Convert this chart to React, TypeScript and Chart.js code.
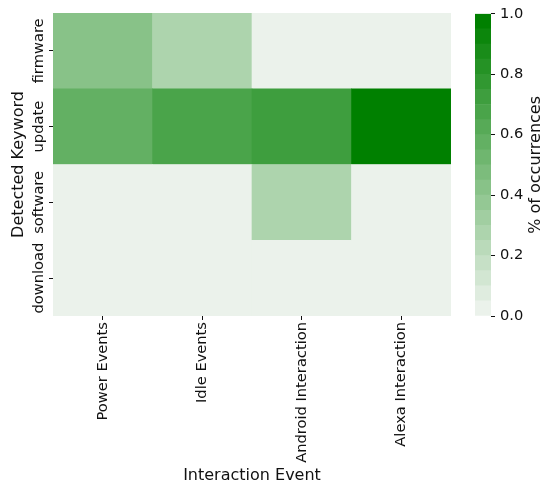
import React, { useEffect, useRef } from 'react';
import { Chart, registerables } from 'chart.js';

Chart.register(...registerables);

const columns = ['Power Events', 'Idle Events', 'Android Interaction', 'Alexa Interaction'];
const rows = ['firmware', 'update', 'software', 'download'];
const firmware = [0.42, 0.27, 0, 0];
const update = [0.57, 0.67, 0.72, 1.0];
const software = [0, 0, 0.27, 0];
const download = [0, 0, 0, 0];
const rowValues = [firmware, update, software, download];
const colorbarTicks = [0, 0.2, 0.4, 0.6, 0.8, 1.0];

const N_LEVELS = 20;
const LIGHT = [235, 242, 235];
const DARK = [0, 128, 0];
const TEXT = '#111111';
const FONT = 'DejaVu Sans';
const FS = 14.67;
const TS = 16;

function levelColor(i: number): string {
  const t = i / (N_LEVELS - 1);
  const c = LIGHT.map((l, k) => Math.round(l + (DARK[k] - l) * t));
  return `rgb(${c[0]},${c[1]},${c[2]})`;
}
function valueColor(v: number): string {
  const i = Math.min(N_LEVELS - 1, Math.floor(v * N_LEVELS));
  return levelColor(i);
}

export default function App() {
  const mainRef = useRef<HTMLCanvasElement>(null);
  const barRef = useRef<HTMLCanvasElement>(null);

  useEffect(() => {
    const rowLabelPlugin = {
      id: 'rowLabels',
      afterDraw(chart: any) {
        const ctx = chart.ctx;
        const ys = chart.scales.y;
        ctx.save();
        ctx.fillStyle = TEXT;
        ctx.font = `${FS}px "${FONT}"`;
        ctx.textAlign = 'center';
        ctx.textBaseline = 'alphabetic';
        rows.forEach((name, i) => {
          const y = ys.getPixelForValue(rows.length - 0.5 - i);
          ctx.save();
          ctx.translate(43, y);
          ctx.rotate(-Math.PI / 2);
          ctx.fillText(name, 0, 0);
          ctx.restore();
        });
        ctx.restore();
      },
    };

    const datasets = [] as any[];
    for (let r = rows.length - 1; r >= 0; r--) {
      datasets.push({
        label: rows[r],
        data: columns.map(() => 1),
        backgroundColor: rowValues[r].map(valueColor),
        borderWidth: 0,
        barPercentage: 1,
        categoryPercentage: 1,
      });
    }

    const main = new Chart(mainRef.current!, {
      type: 'bar',
      data: { labels: columns, datasets },
      plugins: [rowLabelPlugin],
      options: {
        animation: false,
        responsive: false,
        layout: { padding: { top: 13, right: 9, left: 0, bottom: 0 } },
        plugins: { legend: { display: false }, tooltip: { enabled: false } },
        scales: {
          x: {
            type: 'category',
            stacked: true,
            border: { display: false },
            grid: { offset: false, drawOnChartArea: false, drawTicks: true, tickLength: 4, color: TEXT },
            ticks: {
              minRotation: 90,
              maxRotation: 90,
              autoSkip: false,
              padding: 2,
              color: TEXT,
              font: { family: FONT, size: FS },
            },
            title: {
              display: true,
              text: 'Interaction Event',
              color: TEXT,
              font: { family: FONT, size: TS },
              padding: { top: 0, bottom: 1.5 },
            },
            afterFit: (s: any) => { s.height = 171; },
          },
          y: {
            type: 'linear',
            stacked: true,
            min: 0,
            max: rows.length,
            border: { display: false },
            grid: { drawOnChartArea: false, drawTicks: true, tickLength: 4, color: TEXT },
            afterBuildTicks: (s: any) => {
              s.ticks = rows.map((_, i) => ({ value: i + 0.5 }));
            },
            ticks: {
              color: 'rgba(0,0,0,0)',
              font: { family: FONT, size: FS },
              callback: (v: any) => rows[rows.length - 1 - Math.floor(Number(v))],
            },
            title: {
              display: true,
              text: 'Detected Keyword',
              color: TEXT,
              font: { family: FONT, size: TS },
              padding: { top: 9.2, bottom: 0 },
            },
            afterFit: (s: any) => { s.width = 53; },
          },
        },
      } as any,
    });

    const cbLabelPlugin = {
      id: 'cbLabel',
      afterDraw(chart: any) {
        const ctx = chart.ctx;
        const a = chart.chartArea;
        ctx.save();
        ctx.fillStyle = TEXT;
        ctx.font = `${TS}px "${FONT}"`;
        ctx.textAlign = 'center';
        ctx.textBaseline = 'alphabetic';
        ctx.translate(80, (a.top + a.bottom) / 2);
        ctx.rotate(-Math.PI / 2);
        ctx.fillText('% of occurrences', 0, 0);
        ctx.restore();
      },
    };

    const levelSets = [] as any[];
    for (let i = 0; i < N_LEVELS; i++) {
      levelSets.push({
        data: [1 / N_LEVELS],
        backgroundColor: levelColor(i),
        borderWidth: 0,
        barPercentage: 1,
        categoryPercentage: 1,
      });
    }

    const bar = new Chart(barRef.current!, {
      type: 'bar',
      data: { labels: [''], datasets: levelSets },
      plugins: [cbLabelPlugin],
      options: {
        animation: false,
        responsive: false,
        layout: { padding: { top: 13, right: 0, left: 15, bottom: 171 } },
        plugins: { legend: { display: false }, tooltip: { enabled: false } },
        scales: {
          x: { type: 'category', stacked: true, display: false },
          y: {
            type: 'linear',
            position: 'right',
            stacked: true,
            min: 0,
            max: 1,
            border: { display: false },
            grid: { drawOnChartArea: false, drawTicks: true, tickLength: 4, color: TEXT },
            afterBuildTicks: (s: any) => {
              s.ticks = colorbarTicks.map((v) => ({ value: v }));
            },
            ticks: {
              padding: 5,
              color: TEXT,
              font: { family: FONT, size: FS },
              callback: (v: any) => Number(v).toFixed(1),
            },
            afterFit: (s: any) => { s.width = 53; },
          },
        },
      } as any,
    });

    return () => {
      main.destroy();
      bar.destroy();
    };
  }, []);

  return (
    <div style={{ position: 'absolute', left: 0, top: 0, width: 544, height: 487, background: '#fff' }}>
      <canvas ref={mainRef} width={460} height={487}
        style={{ position: 'absolute', left: 0, top: 0, width: 460, height: 487 }} />
      <canvas ref={barRef} width={84} height={487}
        style={{ position: 'absolute', left: 460, top: 0, width: 84, height: 487 }} />
    </div>
  );
}
